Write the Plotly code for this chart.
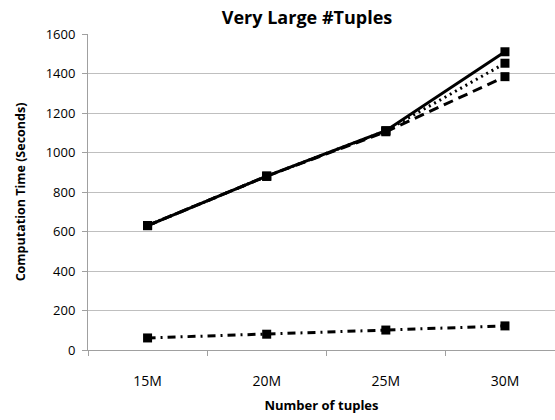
import plotly.graph_objects as go

categories = ["15M", "20M", "25M", "30M"]
solid_vals = [630, 880, 1110, 1510]
dotted_vals = [630, 880, 1110, 1452]
dashed_vals = [630, 880, 1105, 1384]
dashdot_vals = [61, 80, 101, 122]

dash_patterns = {"dashdot": "8px,5px,2px,5px", "dash": "10px,6px", "dot": "2px,4px", "solid": "solid"}

fig = go.Figure()
styles = [(dashdot_vals, "dashdot"), (dashed_vals, "dash"), (dotted_vals, "dot"), (solid_vals, "solid")]
for vals, dash in styles:
    fig.add_trace(go.Scatter(
        x=categories, y=vals, mode="lines+markers",
        line=dict(color="black", width=3, dash=dash_patterns[dash]),
        marker=dict(symbol="square", size=9, color="black"),
        showlegend=False,
    ))

font_family = "Open Sans, Liberation Sans, sans-serif"
fig.update_layout(
    width=555, height=420,
    margin=dict(l=88, r=0, t=34, b=70),
    paper_bgcolor="white", plot_bgcolor="white",
    title=dict(text="<b>Very Large #Tuples</b>", x=307/555, xanchor="center", y=0.957, yanchor="middle",
               font=dict(family=font_family, size=18, color="black")),
    font=dict(family=font_family, color="black"),
    xaxis=dict(
        type="category", range=[-0.5, 3.42], tickson="boundaries",
        ticks="outside", ticklen=5, tickcolor="#a0a0a0",
        showline=True, linecolor="#a0a0a0", linewidth=1,
        showgrid=False, tickfont=dict(size=14), ticklabelstandoff=18,
        title=dict(text="<b>Number of tuples</b>", font=dict(size=13), standoff=12),
    ),
    yaxis=dict(
        range=[0, 1600], dtick=200,
        ticks="outside", ticklen=5, tickcolor="#a0a0a0",
        showline=True, linecolor="#a0a0a0", linewidth=1,
        showgrid=True, gridcolor="#bfbfbf", gridwidth=1,
        zeroline=False, tickfont=dict(size=13), ticklabelstandoff=4,
        title=dict(text="<b>Computation Time (Seconds)</b>", font=dict(size=12.5), standoff=17),
    ),
)

fig.write_html("out.html")
